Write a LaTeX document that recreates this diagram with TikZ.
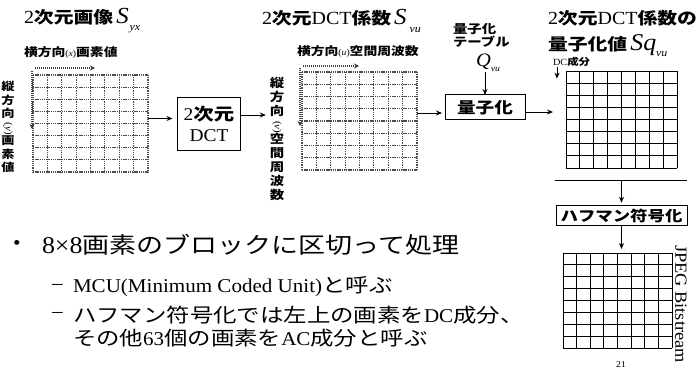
\documentclass[tikz,border=0pt]{standalone}
\usepackage{fontspec}
\usepackage{graphicx}
\setmainfont{Liberation Serif}[FakeStretch=1.08]
\newfontfamily\jp{Noto Sans CJK JP}[FakeStretch=1.2]
\newcommand\jbold{\jp\bfseries}
\newcommand\fs[1]{\fontsize{#1}{#1}\selectfont}
\newcommand\tj[1]{{\jbold\fs{16.5}#1}}
\usetikzlibrary{arrows.meta,calc}
\begin{document}
\begin{tikzpicture}[x=1pt,y=-1pt,
  every node/.style={inner sep=0pt, outer sep=0pt},
  arr/.style={-{Stealth[length=6pt,width=5pt]}, line width=0.9pt},
  dotarr/.style={-{Stealth[length=5pt,width=5pt]}, line width=1.1pt, black!75, dash pattern=on 1.2pt off 0.8pt},
  procbox/.style={draw, line width=1pt, align=center},
  dotgrid/.style={line width=1.1pt, black!70, dash pattern=on 1.3pt off 0.9pt},
  solidgrid/.style={line width=0.8pt, black},
  vlab/.style={align=center},
  title/.style={anchor=west, font=\fs{18.5}}]
\useasboundingbox[fill=white] (0,0) rectangle (698,371);

% ---- grids
\node[minimum width=115pt, minimum height=97pt] (g1) at (90.5,123.5) {};
\node[minimum width=115pt, minimum height=98pt] (g2) at (359.5,121) {};
\node[minimum width=111pt, minimum height=97pt] (g3) at (621.5,119.5) {};
\node[minimum width=109pt, minimum height=95pt] (g4) at (617.5,300.5) {};
\foreach \g in {g1,g2}{
  \foreach \i in {0,...,8}{
    \draw[dotgrid] ($(\g.north west)!\i/8!(\g.north east)$) -- ($(\g.south west)!\i/8!(\g.south east)$);
    \draw[dotgrid] ($(\g.north west)!\i/8!(\g.south west)$) -- ($(\g.north east)!\i/8!(\g.south east)$);
  }
}
\foreach \g in {g3,g4}{
  \foreach \i in {0,...,8}{
    \draw[solidgrid] ($(\g.north west)!\i/8!(\g.north east)$) -- ($(\g.south west)!\i/8!(\g.south east)$);
    \draw[solidgrid] ($(\g.north west)!\i/8!(\g.south west)$) -- ($(\g.north east)!\i/8!(\g.south east)$);
  }
}
% direction arrows on grids
\draw[dotarr] ([shift={(2pt,7pt)}]g1.north west) -- ++(60,0);
\draw[dotarr] ([shift={(-1pt,4pt)}]g1.north west) -- ++(0,58);
\draw[dotarr] ([shift={(1pt,6pt)}]g2.north west) -- ++(56,0);
\draw[dotarr] ([shift={(-2pt,4pt)}]g2.north west) -- ++(0,58);

% ---- titles
\node[title] (t1) at (24,21) {2\tj{次元画像}\,{\fs{23}\itshape S}\hspace{1pt}\raisebox{-7pt}{\fs{11}\itshape yx}};
\node[title] (t2) at (262,21) {2\tj{次元}DCT\tj{係数}\,{\fs{23}\itshape S}\hspace{3pt}\raisebox{-8pt}{\fs{11}\itshape vu}};
\node[title] (t3) at (548,18) {2\tj{次元}DCT\tj{係数の}};
\node[title] (t4) at (548,46) {\tj{量子化値}\,{\fs{24}\itshape Sq}\raisebox{-6pt}{\fs{11}\itshape vu}};

\node[anchor=west, font=\jbold\fs{11.5}] (s1) at (24,53) {横方向{\rmfamily\mdseries\fs{9}(\textit{x})}画素値};
\node[anchor=west, font=\jbold\fs{11.5}] (s2) at (297,52) {横方向{\rmfamily\mdseries\fs{9}(\textit{u})}空間周波数};

% vertical labels
\node[vlab, font=\jbold\fontsize{11}{13.5}\selectfont] (v1) at (8,127)
  {縦\\方\\向\\\rotatebox[origin=c]{-90}{\rmfamily\mdseries\fs{10}(\textit{y})}\\画\\素\\値};
\node[vlab, font=\jbold\fontsize{12}{14}\selectfont] (v2) at (277,139)
  {縦\\方\\向\\\rotatebox[origin=c]{-90}{\rmfamily\mdseries\fs{10}(\textit{v})}\\空\\間\\周\\波\\数};

% ---- process boxes
\node[procbox, minimum width=63pt, minimum height=53pt, font=\fontsize{18}{21}\selectfont] (dct) at (209,124) {2{\jbold\fs{17}次元}\\DCT};
\node[procbox, minimum width=80pt, minimum height=25pt, font=\jbold\fs{15.5}] (q) at (485,107.5) {量子化};
\node[procbox, minimum width=131pt, minimum height=19.5pt, font=\jbold\fs{14.5}] (hf) at (621.5,215.5) {ハフマン符号化};

% quantization table label
\node[anchor=west, font=\jbold\fs{12}] (qt1) at (453,29) {量子化};
\node[anchor=west, font=\jbold\fs{12}] (qt2) at (453,42) {テーブル};
\node[font=\fs{19}] (qq) at (488,63) {\itshape Q\raisebox{-5pt}{\fs{9}\itshape vu}};

% DC component label
\node[anchor=west, font=\fs{9.5}] (dc) at (553,62) {DC{\jbold 成分}};

% JPEG bitstream label
\node[rotate=-90, font=\fs{17}] (bits) at (681,304) {JPEG Bitstream};

% page number
\node[anchor=north, font=\fs{9}] (pg) at (621,362) {21};

% ---- connectors
\draw[arr, shorten >=5pt] ([yshift=5pt]g1.east) coordinate (a1) -- (a1 -| dct.west);
\draw[arr, shorten >=4pt] ([yshift=9pt]dct.east) coordinate (a2) -- (a2 -| v2.west);
\draw[arr, shorten >=3pt] ([yshift=8pt]g2.east) coordinate (a3) -- (a3 -| q.west);
\draw[arr] ([yshift=-4.5pt]q.east) coordinate (a4) -- ($(a4 -| g3.west)+(-13,0)$);
\draw[arr] (qq.south -| q.north) -- (q.north);
\draw[arr] ([xshift=4pt]dc.south west) -- ++(0,12);
\coordinate (la) at (555,180);
\coordinate (lb) at (687,180);
\draw[line width=0.8pt] (la) -- (lb);
\draw[arr, shorten >=3pt] (hf.north |- la) -- (hf.north);
\draw[arr] (hf.south) -- ($(hf.south |- g4.north)+(0,-4)$);

% ---- bullet text
\node[anchor=west, font=\fs{20}] (b0) at (13,245) {\textbullet};
\node[anchor=west, font=\fs{22.5}] (b1) at (42,245) {{\fs{24}8×8}{\jp 画素のブロックに区切って処理}};
\node[anchor=west, font=\fs{19.5}] (d1) at (52,287) {–};
\node[anchor=west, font=\fs{19.5}] (m1) at (73,287) {MCU(Minimum Coded Unit){\jp と呼ぶ}};
\node[anchor=west, font=\fs{19.5}] (d2) at (52,315) {–};
\node[anchor=west, font=\fs{19.5}] (m2) at (73,315) {{\jp ハフマン符号化では左上の画素を}DC{\jp 成分、}};
\node[anchor=west, font=\fs{19.5}] (m3) at (73,338) {{\jp その他}63{\jp 個の画素を}AC{\jp 成分と呼ぶ}};
\end{tikzpicture}
\end{document}
